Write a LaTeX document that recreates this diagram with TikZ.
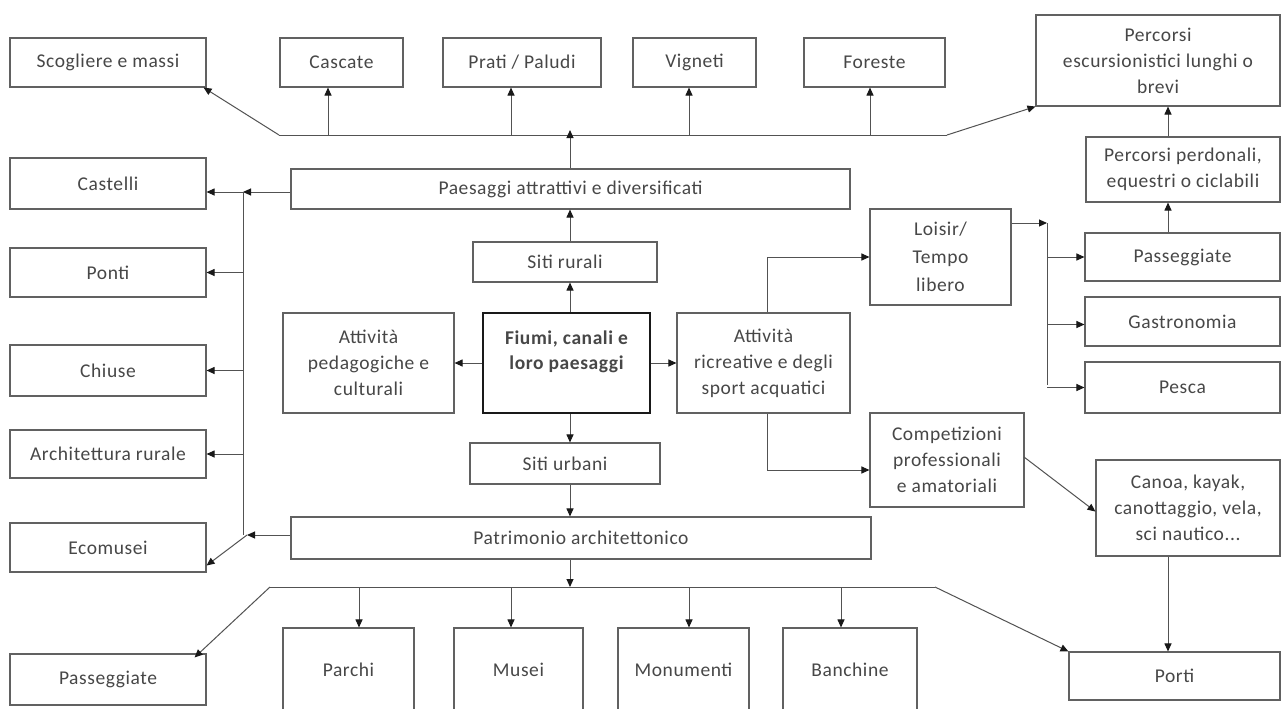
\documentclass[tikz,border=0pt]{standalone}
\usepackage{fontspec}
\setmainfont[LetterSpace=3]{Carlito}
\usetikzlibrary{arrows.meta}
\newcommand{\Bx}[7][]{\node[bx,#1,minimum width={(#5-#3)*1pt},minimum height={(#6-#4)*1pt}] (#2) at ({(#3+#5)/2},{(#4+#6)/2}) {#7};}
\begin{document}
\begin{tikzpicture}[x=1pt,y=-1pt,
  bx/.style={draw=black!62, line width=1.1pt, rectangle, inner sep=0pt, align=center, text=black!72, font=\fontsize{19.5}{26}\selectfont},
  ar/.style={draw=black!68, line width=1pt, -{Triangle[length=8pt,width=7pt,color=black!90]}},
  ln/.style={draw=black!68, line width=1pt}]
\useasboundingbox[fill=white] (0,0) rectangle (1287,709);
% top row
\Bx{sco}{10}{38}{206}{87}{Scogliere e massi}
\Bx{cas}{280}{38}{403}{87}{Cascate}
\Bx{pra}{443}{38}{601}{87}{Prati / Paludi}
\Bx{vig}{633}{38}{756}{87}{Vigneti}
\Bx{for}{804}{38}{945}{87}{Foreste}
\Bx{esc}{1036}{15}{1280}{106}{Percorsi\\escursionistici lunghi o\\brevi}
% left column
\Bx{cst}{10}{158}{206}{209}{Castelli}
\Bx{pon}{10}{248}{206}{297}{Ponti}
\Bx{chi}{10}{345}{206}{396}{Chiuse}
\Bx{arc}{10}{430}{206}{478}{Architettura rurale}
\Bx{eco}{10}{523}{206}{572}{Ecomusei}
\Bx{pas}{10}{654}{206}{705}{Passeggiate}
% centre
\Bx{pae}{291}{169}{850}{209}{Paesaggi attrattivi e diversificati}
\Bx{rur}{473}{242}{657}{282}{Siti rurali}
\Bx{ped}{283}{313}{454}{413}{Attività\\pedagogiche e\\culturali}
\Bx[line width=2.4pt,draw=black!90,font=\fontsize{19.5}{25}\selectfont\bfseries]{fiu}{483}{313}{650}{413}{Fiumi, canali e\\loro paesaggi\\~}
\Bx{ric}{677}{313}{850}{413}{Attività\\ricreative e degli\\sport acquatici}
\Bx{urb}{470}{443}{660}{484}{Siti urbani}
\Bx{pat}{291}{517}{871}{559}{Patrimonio architettonico}
% right
\Bx{ped2}{1086}{137}{1280}{202}{Percorsi perdonali,\\equestri o ciclabili}
\Bx[font=\fontsize{19.5}{28}\selectfont]{loi}{870}{209}{1011}{305}{Loisir/\\Tempo\\libero}
\Bx{psg}{1085}{233}{1280}{281}{Passeggiate}
\Bx{gas}{1085}{297}{1280}{346}{Gastronomia}
\Bx{pes}{1085}{362}{1280}{413}{Pesca}
\Bx{com}{870}{413}{1024}{507}{Competizioni\\professionali\\e amatoriali}
\Bx{can}{1096}{460}{1280}{556}{Canoa, kayak,\\canottaggio, vela,\\sci nautico...}
% bottom row
\Bx{par}{283}{628}{414}{712}{Parchi}
\Bx{mus}{454}{628}{583}{712}{Musei}
\Bx{mon}{618}{628}{749}{712}{Monumenti}
\Bx{ban}{783}{628}{917}{712}{Banchine}
\Bx{por}{1069}{652}{1280}{700}{Porti}
% helper coordinates
\coordinate (vx) at (570,0);
\coordinate (tl) at (279,135);
\coordinate (tr) at (947,135);
\coordinate (bl) at (270,587);
\coordinate (br) at (935,587);
\coordinate (lv1) at (243,192);
\coordinate (lv2) at (243,535);
\coordinate (rv1) at (767,257);
\coordinate (rv2) at (767,470);
\coordinate (qv1) at (1047,223);
\coordinate (qv2) at (1047,385);
\coordinate (xc) at (328,0);
\coordinate (xp) at (511,0);
\coordinate (xv) at (689,0);
\coordinate (xf) at (870,0);
\coordinate (xpa) at (359,0);
\coordinate (xmu) at (511,0);
\coordinate (xmo) at (689,0);
\coordinate (xba) at (841,0);
\coordinate (xr) at (1168,0);
\coordinate (ce) at (1024,457);
% top fan
\draw[ln] (tl) -- (tr);
\draw[ar] (tl) -- ([xshift=-3pt]sco.south east);
\draw[ar] (tr) -- (esc.south west);
\draw[ar] (tl -| xc) -- (cas.south -| xc);
\draw[ar] (tl -| xp) -- (pra.south -| xp);
\draw[ar] (tl -| xv) -- (vig.south -| xv);
\draw[ar] (tl -| xf) -- (for.south -| xf);
\draw[ar] (pae.north -| vx) -- ([yshift=5pt]tl -| vx);
% centre spine
\draw[ar] (rur.north -| vx) -- (pae.south -| vx);
\draw[ar] (fiu.north -| vx) -- (rur.south -| vx);
\draw[ar] (fiu.south -| vx) -- (urb.north -| vx);
\draw[ar] (urb.south -| vx) -- (pat.north -| vx);
\draw[ar] (pat.south -| vx) -- (bl -| vx);
\draw[ar] (fiu.west) -- (ped.east);
\draw[ar] (fiu.east) -- (ric.west);
% left fan
\draw[ar] (pae.west |- lv1) -- (lv1);
\draw[ar] (lv1) -- (cst.east |- lv1);
\draw[ln] (lv1) -- (lv2);
\draw[ar] (pon.east -| lv1) -- (pon.east);
\draw[ar] (chi.east -| lv1) -- (chi.east);
\draw[ar] (arc.east -| lv1) -- (arc.east);
\draw[ar] (pat.west |- lv2) -- ([xshift=4pt]lv2);
\draw[ar] ([xshift=4pt]lv2) -- ([yshift=-18pt]eco.east);
% bottom fan
\draw[ln] (bl) -- (br);
\draw[ar] (bl) -- ([xshift=-12pt,yshift=-4pt]pas.north east);
\draw[ar] (br) -- (por.north west);
\draw[ar] (bl -| xpa) -- (par.north -| xpa);
\draw[ar] (bl -| xmu) -- (mus.north -| xmu);
\draw[ar] (bl -| xmo) -- (mon.north -| xmo);
\draw[ar] (bl -| xba) -- (ban.north -| xba);
% right side
\draw[ln] (ric.north -| rv1) -- (rv1);
\draw[ar] (rv1) -- (loi.west |- rv1);
\draw[ln] (ric.south -| rv2) -- (rv2);
\draw[ar] (rv2) -- (com.west |- rv2);
\draw[ar] (loi.east |- qv1) -- (qv1);
\draw[ln] (qv1) -- (qv2);
\draw[ar] (psg.west -| qv1) -- (psg.west);
\draw[ar] ([yshift=-3pt]gas.west -| qv1) -- ([yshift=-3pt]gas.west);
\draw[ar] (pes.west -| qv1) -- (pes.west);
\draw[ar] (psg.north -| xr) -- (ped2.south -| xr);
\draw[ar] (ped2.north -| xr) -- (esc.south -| xr);
\draw[ar] (ce) -- ([yshift=-4pt]can.west |- com.south);
\draw[ar] (can.south -| xr) -- (por.north -| xr);
\end{tikzpicture}
\end{document}
